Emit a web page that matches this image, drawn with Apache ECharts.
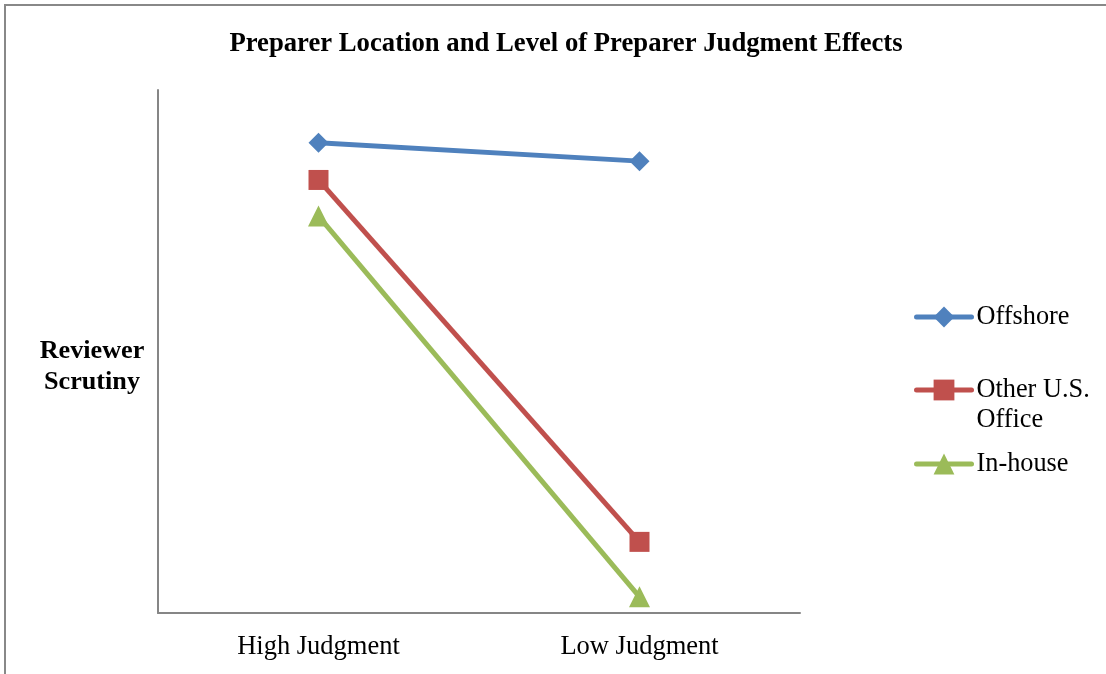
<!DOCTYPE html>
<html>
<head>
<meta charset="utf-8">
<script src="https://cdn.jsdelivr.net/npm/echarts@6/dist/echarts.min.js"></script>
<style>
html,body{margin:0;padding:0;background:#fff;}
#c{width:1106px;height:674px;}
</style>
</head>
<body>
<div id="c"></div>
<script>
const categories = ['High Judgment', 'Low Judgment'];
const offshore = [8.99, 8.64];
const otherUS = [8.28, 1.36];
const inHouse = [7.59, 0.31];
const seriesNames = ['Offshore', 'Other U.S.\nOffice', 'In-house'];
const colors = ['#4F81BD', '#C0504D', '#9BBB59'];
const symbols = ['diamond', 'rect', 'triangle'];
const symbolSizes = [20, 20, 21];
const values = [offshore, otherUS, inHouse];

const FONT = '"Liberation Serif", "Times New Roman", serif';
const chart = echarts.init(document.getElementById('c'), null, {renderer: 'canvas'});

const legendTops = [302, 345, 449];
const option = {
  animation: false,
  backgroundColor: '#fff',
  graphic: [{
    type: 'rect', silent: true, z: -1,
    shape: {x: 5, y: 5, width: 1300, height: 900},
    style: {fill: 'none', stroke: '#888', lineWidth: 2}
  }],
  title: [{
    text: 'Preparer Location and Level of Preparer Judgment Effects',
    left: 561, top: 26, textAlign: 'center',
    textStyle: {fontFamily: FONT, fontWeight: 'bold', fontSize: 26.7, color: '#000'}
  }, {
    text: 'Reviewer\nScrutiny',
    left: 87, top: 331, textAlign: 'center',
    textStyle: {fontFamily: FONT, fontWeight: 'bold', fontSize: 26.2, lineHeight: 31, color: '#000'}
  }],
  legend: seriesNames.map((n, i) => ({
    orient: 'vertical',
    left: 914, top: legendTops[i], padding: 0,
    itemWidth: 55, itemHeight: 26, itemGap: 0,
    data: [{name: n}],
    formatter: i === 1 ? (name => ' \n' + name) : '{name}',
    textStyle: {fontFamily: FONT, fontSize: 26.3, lineHeight: 30, color: '#000'},
    lineStyle: {width: 5, cap: 'round'}
  })),
  grid: {left: 158, right: 306, top: 90, bottom: 61, containLabel: false},
  xAxis: {
    type: 'category', data: categories, boundaryGap: true,
    axisLine: {lineStyle: {color: '#868686', width: 2}},
    axisTick: {show: false},
    axisLabel: {fontFamily: FONT, fontSize: 26.5, color: '#000', margin: 21}
  },
  yAxis: {
    type: 'value', min: 0, max: 10,
    axisLine: {show: true, lineStyle: {color: '#868686', width: 2}},
    axisTick: {show: false}, axisLabel: {show: false}, splitLine: {show: false}
  },
  series: seriesNames.map((n, i) => ({
    name: n, type: 'line', data: values[i],
    symbol: symbols[i], symbolSize: symbolSizes[i], showSymbol: true,
    lineStyle: {color: colors[i], width: 5},
    itemStyle: {color: colors[i]},
    z: 3 - i
  }))
};
chart.setOption(option);
</script>
</body>
</html>
